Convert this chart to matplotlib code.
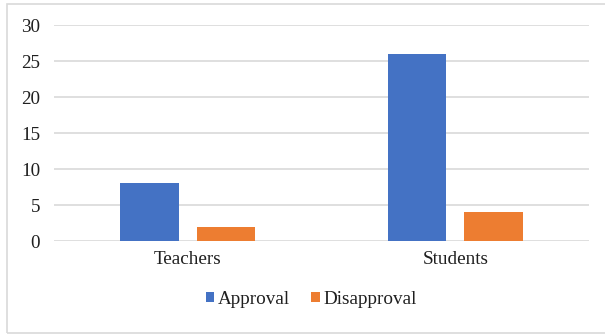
import matplotlib.pyplot as plt
import numpy as np
from matplotlib.patches import Rectangle

# survey counts
groups = ["Teachers", "Students"]
approval = [8, 26]
disapproval = [2, 4]
yticks = [0, 5, 10, 15, 20, 25, 30]

BLUE = "#4472C4"
ORANGE = "#ED7D31"
GRID = "#d9d9d9"
TXT = "#1f1f1f"

plt.rcParams["font.family"] = ["Liberation Serif", "DejaVu Serif"]

W, H = 605, 335
fig = plt.figure(figsize=(W / 100, H / 100), dpi=100)
ax = fig.add_axes([54 / W, 1 - 241 / H, (589 - 54) / W, (241 - 25) / H])

x = np.arange(len(groups))
bw = 0.22
off = 0.143
ax.bar(x - off, approval, bw, color=BLUE, label="Approval", zorder=3)
ax.bar(x + off, disapproval, bw, color=ORANGE, label="Disapproval", zorder=3)

ax.set_xlim(-0.5, 1.5)
ax.set_ylim(0, 30)
ax.set_yticks(yticks)
ax.set_xticks(x)
ax.set_xticklabels(groups)
ax.tick_params(axis="both", length=0, labelsize=13.8, colors=TXT)
ax.tick_params(axis="y", pad=10)
ax.tick_params(axis="x", pad=7)
ax.grid(axis="y", color=GRID, lw=1.2, zorder=0)
for s in ax.spines.values():
    s.set_visible(False)

fig.legend(loc="center", bbox_to_anchor=(0.5 + 9 / W, 1 - 299 / H), ncol=2, frameon=False,
           fontsize=13.8, handlelength=0.45, handleheight=0.45, handletextpad=0.2,
           columnspacing=1.1, labelcolor=TXT)

# chart outline
fig.patches.append(Rectangle((7 / W, 1 - 333 / H), 1.0, (333 - 4) / H,
                             transform=fig.transFigure, fill=False,
                             edgecolor=GRID, lw=1.2))

fig.savefig("out.png", dpi=100)
